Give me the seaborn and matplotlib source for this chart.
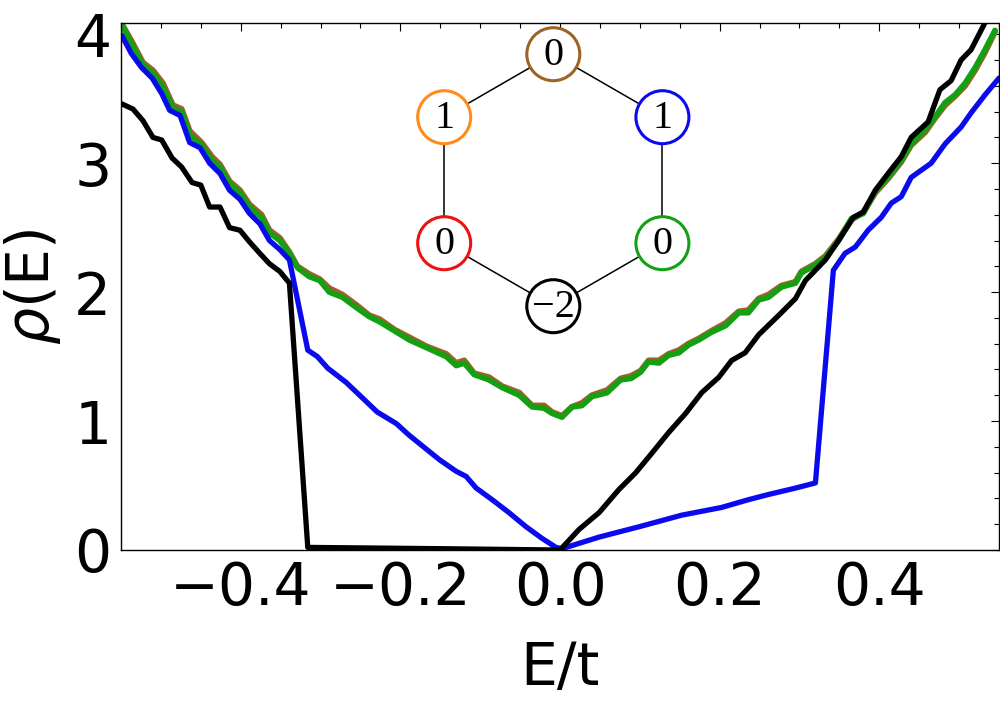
import matplotlib
matplotlib.use("Agg")
import matplotlib.pyplot as plt
import numpy as np
import seaborn as sns
from matplotlib.patches import Circle
from matplotlib.ticker import MultipleLocator

# density of states per site
E_green = [-0.549, -0.537, -0.5225, -0.51, -0.4975, -0.485, -0.474, -0.464, -0.449, -0.436,
           -0.426, -0.414, -0.401, -0.389, -0.374, -0.364, -0.351, -0.339, -0.329, -0.314,
           -0.301, -0.289, -0.2725, -0.255, -0.239, -0.226, -0.2075, -0.189, -0.1675, -0.1425,
           -0.13, -0.12, -0.1075, -0.089, -0.0725, -0.051, -0.035, -0.02, -0.01, 0.0025,
           0.015, 0.0275, 0.04, 0.059, 0.076, 0.089, 0.101, 0.111, 0.124, 0.136,
           0.149, 0.161, 0.174, 0.19, 0.2075, 0.224, 0.236, 0.249, 0.261, 0.2775,
           0.295, 0.3025, 0.32, 0.3325, 0.349, 0.365, 0.38, 0.395, 0.411, 0.4275,
           0.44, 0.4575, 0.47, 0.4825, 0.495, 0.5075, 0.52, 0.5325, 0.545]
rho_green = [4.07, 3.93, 3.76, 3.70, 3.59, 3.43, 3.40, 3.22, 3.14, 3.02,
             2.97, 2.84, 2.77, 2.66, 2.58, 2.46, 2.40, 2.30, 2.19, 2.12,
             2.09, 2.00, 1.96, 1.88, 1.81, 1.77, 1.70, 1.63, 1.57, 1.50,
             1.43, 1.45, 1.36, 1.32, 1.26, 1.20, 1.11, 1.10, 1.06, 1.03,
             1.11, 1.12, 1.19, 1.22, 1.32, 1.33, 1.38, 1.46, 1.45, 1.51,
             1.53, 1.59, 1.63, 1.69, 1.74, 1.84, 1.84, 1.94, 1.96, 2.04,
             2.07, 2.15, 2.21, 2.27, 2.40, 2.57, 2.61, 2.78, 2.89, 3.02,
             3.15, 3.26, 3.36, 3.47, 3.53, 3.62, 3.74, 3.88, 4.03]
rho_brown = [4.08, 3.95, 3.78, 3.72, 3.62, 3.45, 3.42, 3.25, 3.16, 3.05,
             2.99, 2.86, 2.79, 2.68, 2.60, 2.48, 2.42, 2.31, 2.20, 2.14,
             2.10, 2.03, 1.98, 1.90, 1.82, 1.79, 1.71, 1.65, 1.58, 1.52,
             1.45, 1.47, 1.37, 1.34, 1.27, 1.22, 1.12, 1.12, 1.07, 1.04,
             1.11, 1.14, 1.20, 1.24, 1.33, 1.35, 1.39, 1.47, 1.47, 1.52,
             1.55, 1.60, 1.64, 1.70, 1.76, 1.85, 1.86, 1.95, 1.98, 2.05,
             2.08, 2.16, 2.22, 2.28, 2.41, 2.56, 2.62, 2.77, 2.88, 3.01,
             3.14, 3.24, 3.35, 3.45, 3.52, 3.60, 3.72, 3.86, 4.02]

E_blue = [-0.549, -0.537, -0.524, -0.511, -0.499, -0.489, -0.476, -0.464, -0.451, -0.439,
          -0.426, -0.414, -0.401, -0.389, -0.376, -0.364, -0.351, -0.339, -0.316, -0.304,
          -0.291, -0.268, -0.251, -0.229, -0.205, -0.189, -0.167, -0.151, -0.13, -0.1175,
          -0.105, -0.085, -0.064, -0.0425, -0.0225, -0.005, 0.0025, 0.049, 0.099, 0.1525,
          0.2025, 0.236, 0.261, 0.295, 0.32, 0.3425, 0.357, 0.37, 0.386, 0.4025,
          0.415, 0.4275, 0.44, 0.465, 0.4825, 0.5025, 0.515, 0.5325, 0.55]
rho_blue = [3.99, 3.85, 3.74, 3.66, 3.54, 3.41, 3.37, 3.16, 3.12, 3.00,
            2.92, 2.79, 2.72, 2.61, 2.53, 2.40, 2.33, 2.25, 1.55, 1.50,
            1.41, 1.30, 1.20, 1.07, 0.98, 0.89, 0.78, 0.70, 0.61, 0.57,
            0.48, 0.39, 0.29, 0.18, 0.09, 0.02, 0.01, 0.10, 0.18, 0.27,
            0.33, 0.39, 0.43, 0.48, 0.52, 2.17, 2.30, 2.35, 2.48, 2.58,
            2.69, 2.74, 2.89, 3.00, 3.15, 3.28, 3.39, 3.53, 3.66]

E_black = [-0.549, -0.535, -0.5225, -0.51, -0.499, -0.486, -0.474, -0.461, -0.45, -0.439,
           -0.426, -0.414, -0.401, -0.389, -0.376, -0.364, -0.351, -0.339, -0.316, -0.15,
           -0.005, 0.0, 0.024, 0.049, 0.074, 0.095, 0.115, 0.136, 0.1575, 0.1775,
           0.199, 0.215, 0.232, 0.249, 0.274, 0.295, 0.3075, 0.3325, 0.349, 0.3675,
           0.38, 0.395, 0.411, 0.4275, 0.44, 0.4612, 0.476, 0.49, 0.5025, 0.515,
           0.5325, 0.55]
rho_black = [3.46, 3.42, 3.33, 3.20, 3.18, 3.04, 2.97, 2.85, 2.83, 2.66,
             2.66, 2.50, 2.48, 2.39, 2.30, 2.22, 2.16, 2.07, 0.02, 0.01,
             0.0, 0.0, 0.16, 0.29, 0.47, 0.60, 0.75, 0.91, 1.06, 1.22,
             1.34, 1.47, 1.53, 1.67, 1.82, 1.95, 2.09, 2.25, 2.40, 2.58,
             2.62, 2.79, 2.92, 3.05, 3.20, 3.32, 3.57, 3.64, 3.80, 3.88,
             4.09, 4.20]

# hexagon sites (top, upper right, lower right, bottom, lower left, upper left)
site_labels = ['0', '1', '0', '\u22122', '0', '1']
site_colors = ['#9c6326', '#0a0aee', '#13a013', 'black', '#ee1111', '#ff8c1a']

sns.set_style("white")
plt.rcParams['font.family'] = ['DejaVu Sans']
plt.rcParams['text.color'] = 'black'
plt.rcParams['axes.labelcolor'] = 'black'
plt.rcParams['xtick.color'] = 'black'
plt.rcParams['ytick.color'] = 'black'

fig = plt.figure(figsize=(10, 7.06), dpi=100)
ax = fig.add_axes([0.121, 0.221, 0.878, 0.746])

sns.lineplot(x=E_green, y=rho_brown, color='#a0602a', linewidth=4.3, ax=ax)
sns.lineplot(x=E_green, y=rho_green, color='#13a013', linewidth=4.1, ax=ax)
sns.lineplot(x=E_blue, y=rho_blue, color='#0a0aee', linewidth=3.8, ax=ax)
sns.lineplot(x=E_black, y=rho_black, color='black', linewidth=3.8, ax=ax)

ax.set_xlim(-0.55, 0.55)
ax.set_ylim(0, 4.085)
ax.xaxis.set_minor_locator(MultipleLocator(0.05))
ax.yaxis.set_major_locator(MultipleLocator(1))
ax.yaxis.set_minor_locator(MultipleLocator(0.2))
ax.set_xticks([-0.4, -0.2, 0.0, 0.2, 0.4])
ax.set_xticklabels(['\u22120.4', '\u22120.2', '0.0', '0.2', '0.4'])
ax.tick_params(which='both', direction='in', top=True, right=True, width=0.8, labelsize=42)
ax.tick_params(which='major', length=6, pad=7)
ax.tick_params(which='minor', length=3.5)
for s in ax.spines.values():
    s.set_linewidth(1.0)
    s.set_color('black')

ax.set_xlabel('E/t', fontsize=42, labelpad=17)
ax.set_ylabel(r'$\rho$(E)', fontsize=42, labelpad=8)

# inset: hexagon of sites, drawn in pixel-like coordinates
axi = fig.add_axes([410 / 1000, 1 - 340 / 706, 290 / 1000, 320 / 706])
axi.set_xlim(410, 700)
axi.set_ylim(340, 20)
axi.axis('off')
cx, cy, R = 553.3, 180.2, 126.0
ang = np.deg2rad([90, 30, -30, -90, -150, 150])
px = cx + R * np.cos(ang)
py = cy - R * np.sin(ang)
for i in range(6):
    j = (i + 1) % 6
    axi.plot([px[i], px[j]], [py[i], py[j]], color='black', linewidth=1.1, zorder=1)
for i in range(6):
    axi.add_patch(Circle((px[i], py[i]), 26.5, facecolor='white', edgecolor=site_colors[i],
                         linewidth=2.2, zorder=2))
    axi.text(px[i], py[i] + 1, site_labels[i], ha='center', va='center', fontsize=29,
             family=['Liberation Serif', 'DejaVu Serif'], zorder=3)

fig.savefig('out.png', dpi=100)
